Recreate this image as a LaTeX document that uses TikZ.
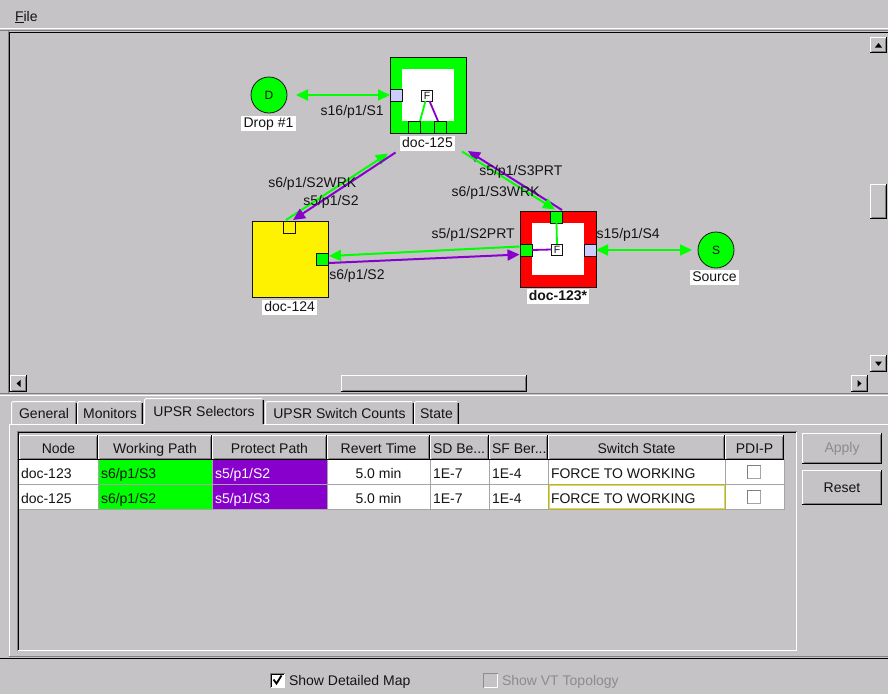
\documentclass[tikz,border=0pt]{standalone}
\usepackage{fontspec}
\setmainfont{Liberation Sans}
\usetikzlibrary{arrows.meta}

\definecolor{winbg}{RGB}{197,195,198}
\definecolor{edge}{RGB}{128,128,128}
\definecolor{nodegreen}{RGB}{0,255,0}
\definecolor{pathpurple}{RGB}{136,0,204}
\definecolor{portlav}{RGB}{204,204,255}
\definecolor{gridgray}{RGB}{165,165,165}
\definecolor{ink}{RGB}{20,20,20}
\definecolor{greyed}{RGB}{140,140,140}
\definecolor{focusyellow}{RGB}{235,225,0}

% raised 3D frame: (#1,#2) top-left, (#3,#4) bottom-right, in pixels
\newcommand\raisedframe[4]{%
  \fill[winbg] (#1,#2) rectangle (#3,#4);
  \draw[white,line width=1pt] (#1+0.5,#4-1) -- (#1+0.5,#2+0.5) -- (#3-1,#2+0.5);
  \draw[edge,line width=1pt] (#1+1.5,#4-1.5) -- (#3-1.5,#4-1.5) -- (#3-1.5,#2+1.5);
  \draw[black,line width=1pt] (#1,#4-0.5) -- (#3-0.5,#4-0.5) -- (#3-0.5,#2);
}
% sunken 3D frame with fill colour #5
\newcommand\sunkenframe[5]{%
  \fill[#5] (#1,#2) rectangle (#3,#4);
  \draw[edge,line width=1pt] (#1+0.5,#4) -- (#1+0.5,#2+0.5) -- (#3,#2+0.5);
  \draw[black,line width=1pt] (#1+1.5,#4-1) -- (#1+1.5,#2+1.5) -- (#3-1,#2+1.5);
  \draw[white,line width=1pt] (#1+0.5,#4-0.5) -- (#3-0.5,#4-0.5) -- (#3-0.5,#2+0.5);
}
% flat check box inside a table cell: top-left corner
\newcommand\cellcheck[2]{%
  \fill[white] (#1,#2) rectangle (#1+14,#2+14);
  \draw[edge,line width=1pt] (#1+0.5,#2+14) -- (#1+0.5,#2+0.5) -- (#1+14,#2+0.5);
  \draw[gridgray,line width=1pt] (#1+0.5,#2+13.5) -- (#1+13.5,#2+13.5) -- (#1+13.5,#2+0.5);
}
% notebook tab: left x, right x, top y
\newcommand\tabshape[3]{%
  \fill[winbg] (#1,#3) rectangle (#2,424);
  \draw[white,line width=1pt] (#1+0.5,424) -- (#1+0.5,#3+2) -- (#1+2,#3+0.5) -- (#2-2,#3+0.5);
  \draw[black,line width=1pt] (#2-0.5,#3+2) -- (#2-0.5,424);
  \draw[edge,line width=1pt] (#2-1.5,#3+2) -- (#2-1.5,424);
}

\begin{document}
\begin{tikzpicture}[x=1pt,y=-1pt,
  font=\fontsize{14}{16}\selectfont,
  every node/.style={inner sep=0pt,outer sep=0pt,text=ink},
  devbox/.style={draw=ink,line width=1pt,minimum size=76pt},
  innerwhite/.style={fill=white,draw=none,minimum size=52pt},
  portsq/.style={draw=ink,line width=0.8pt,minimum size=12pt},
  fsw/.style={draw=ink,fill=white,line width=1pt,minimum size=11pt,font=\fontsize{10.5}{10.5}\selectfont},
  endnode/.style={circle,draw=ink,fill=nodegreen,line width=0.8pt,minimum size=36pt,font=\fontsize{12}{12}\selectfont},
  tag/.style={fill=white,inner xsep=2.3pt,inner ysep=1pt,text height=10.5pt,text depth=2.5pt},
  linklbl/.style={anchor=base west},
  gline/.style={draw=nodegreen,line width=2pt},
  pline/.style={draw=pathpurple,line width=2pt},
  thinlink/.style={line width=1.8pt},
  headend/.style={-{Triangle[length=12pt,width=11pt]}},
  bothends/.style={{Triangle[length=12pt,width=11pt]}-{Triangle[length=12pt,width=11pt]}},
  celltxt/.style={anchor=base west},
  hdrtxt/.style={anchor=base},
  grid/.style={draw=gridgray,line width=1pt},
  ]
\useasboundingbox (0,0) rectangle (888,694);
\fill[winbg] (0,0) rectangle (888,694);

% ---------- menu bar ----------
\node[anchor=base west] (menufile) at (15,21) {\underline{F}ile};
\draw[white,line width=1pt] (0,28.5) -- (888,28.5);
\draw[edge,line width=1pt] (0,30.5) -- (888,30.5);
\draw[black,line width=1pt] (9,32) -- (888,32);
\draw[edge,line width=1pt] (8.5,31) -- (8.5,393);
\draw[black,line width=1pt] (9.5,32) -- (9.5,392);

% ---------- scroll bars of the map ----------
\raisedframe{870}{37}{887}{53}
\fill[black] (875,47.5) -- (882,47.5) -- (878.5,43) -- cycle;
\raisedframe{870}{184}{887}{219}
\raisedframe{870}{355}{887}{372}
\fill[black] (875,361.5) -- (882,361.5) -- (878.5,366) -- cycle;
\raisedframe{10}{375}{27}{392}
\fill[black] (16.5,383.5) -- (20.5,380) -- (20.5,387) -- cycle;
\raisedframe{341}{375}{527}{392}
\raisedframe{851}{375}{868}{392}
\fill[black] (861.5,383.5) -- (857.5,380) -- (857.5,387) -- cycle;
\draw[edge,line width=1pt] (0,393.5) -- (888,393.5);
\draw[white,line width=1pt] (0,395) -- (888,395);

% ---------- network map ----------
% end points
\node[endnode] (drop) at (269,95) {D};
\node[tag] (droplbl) at (268.5,123) {Drop \#1};
\node[endnode] (source) at (716,250) {S};
\node[tag] (sourcelbl) at (714.5,277) {Source};

% doc-125
\node[devbox,fill=nodegreen] (n125) at (428,95) {};
\node[innerwhite] (w125) at (427.5,95) {};
\node[portsq,fill=portlav] (p125w) at (396,95) {};
\node[portsq,fill=nodegreen] (p125a) at (414,127) {};
\node[portsq,fill=nodegreen] (p125b) at (440,127) {};
\node[fsw] (f125) at (427,95.5) {F};
\draw[nodegreen,thinlink] (f125.south) ++(-1.5,0) coordinate (f125g) -- (p125a.north east);
\draw[pathpurple,thinlink] (f125.south) ++(2.5,0) coordinate (f125p) -- ([xshift=-2pt]p125b.north);
\node[tag] (lbl125) at (427.5,143.3) {doc-125};

% doc-124
\node[devbox,fill=yellow] (n124) at (290,259) {};
\node[portsq,fill=yellow] (p124t) at (289,227) {};
\node[portsq,fill=nodegreen] (p124e) at (322,259) {};
\node[tag] (lbl124) at (289.7,307) {doc-124};

% doc-123
\node[devbox,fill=red] (n123) at (558,249) {};
\node[innerwhite] (w123) at (558,248.5) {};
\node[portsq,fill=nodegreen] (p123n) at (556.5,217) {};
\node[portsq,fill=nodegreen] (p123w) at (526,250) {};
\node[portsq,fill=portlav] (p123e) at (590,250) {};
\node[fsw] (f123) at (557,249.5) {F};
\draw[nodegreen,thinlink] (p123n.south) -- (f123.north);
\draw[pathpurple,thinlink] (p123w.east) -- (f123.west);
\node[tag,font=\fontsize{14}{16}\selectfont\bfseries] (lbl123) at (558,296) {doc-123*};

% link end points
\coordinate (g124t) at (286,220);
\coordinate (g125l) at (388,153.5);
\coordinate (v125l) at (395.5,152.5);
\coordinate (v124t) at (293,220);
\coordinate (g123w) at (519.5,246.5);
\coordinate (g124e) at (329,256);
\coordinate (v124e) at (329,263);
\coordinate (v123w) at (519.5,254.5);
\coordinate (v123n) at (562,210);
\coordinate (v125r) at (468,151);
\coordinate (g125r) at (462,151.5);
\coordinate (g123n) at (555,209.5);

% links
\draw[gline,bothends,shorten <=9pt] (drop) -- (p125w);
\draw[gline,headend] (g124t) -- (g125l);
\draw[pline,headend] (v125l) -- (v124t);
\draw[gline,headend] (g123w) -- (g124e);
\draw[pline,headend] (v124e) -- (v123w);
\draw[pline,headend] (v123n) -- (v125r);
\draw[gline,headend] (g125r) -- (g123n);
\draw[gline,bothends,shorten >=6pt] (p123e) -- (source);

% link labels
\node[linklbl] (l16) at (320.7,115.7) {s16/p1/S1};
\node[linklbl] (l6wrk2) at (268.3,187.7) {s6/p1/S2WRK};
\node[linklbl] (l5s2) at (303.3,205.7) {s5/p1/S2};
\node[linklbl] (l6s2) at (329.3,279.3) {s6/p1/S2};
\node[linklbl] (l5prt2) at (431.7,238.3) {s5/p1/S2PRT};
\node[linklbl] (l15) at (596.7,238.3) {s15/p1/S4};
\node[linklbl] (l5prt3) at (479.3,175) {s5/p1/S3PRT};
\node[linklbl] (l6wrk3) at (451.7,196) {s6/p1/S3WRK};

% ---------- notebook tabs ----------
\tabshape{11}{77}{401}
\tabshape{77}{143}{401}
\tabshape{265}{414}{401}
\tabshape{414}{459}{401}
\draw[white,line width=1pt] (9,424.5) -- (144,424.5);
\draw[white,line width=1pt] (264,424.5) -- (888,424.5);
\draw[white,line width=1pt] (9.5,424.5) -- (9.5,656);
\tabshape{144}{264}{398}
\fill[winbg] (145,423) rectangle (262,426);
\node[anchor=base] (tabgen) at (44,418.3) {General};
\node[anchor=base] (tabmon) at (110,418.3) {Monitors};
\node[anchor=base] (tabsel) at (204,416.7) {UPSR Selectors};
\node[anchor=base] (tabcnt) at (339.5,418.3) {UPSR Switch Counts};
\node[anchor=base] (tabstate) at (436.5,418.3) {State};

% ---------- selector table ----------
\sunkenframe{17}{431}{797}{651}{winbg}
% rows
\fill[white] (19,459) rectangle (784,509.5);
\fill[nodegreen] (98,459) rectangle (212,509);
\fill[pathpurple] (212,459) rectangle (327,509);
\foreach \yy in {484.5,509.5} \draw[grid] (19,\yy) -- (784,\yy);
\foreach \xx in {98,212,327,430,489,548,725,784} \draw[grid] (\xx,459) -- (\xx,509.5);
% header cells
\foreach \xa/\xb in {19/98,98/212,212/327,327/430,430/489,489/548,548/725,725/784}
  {\raisedframe{\xa}{435}{\xb}{460}}
\node[hdrtxt] (hnode) at (58.5,453.3) {Node};
\node[hdrtxt] (hwork) at (155,453.3) {Working Path};
\node[hdrtxt] (hprot) at (269.5,453.3) {Protect Path};
\node[hdrtxt] (hrev) at (378.5,453.3) {Revert Time};
\node[celltxt] (hsd) at (433,453.3) {SD Be...};
\node[celltxt] (hsf) at (492,453.3) {SF Ber...};
\node[hdrtxt] (hsw) at (636.5,453.3) {Switch State};
\node[hdrtxt] (hpdi) at (754.5,453.3) {PDI-P};
% row 1
\node[celltxt] (r1node) at (21,478.3) {doc-123};
\node[celltxt] (r1work) at (101,478.3) {s6/p1/S3};
\node[celltxt,text=white] (r1prot) at (215,478.3) {s5/p1/S2};
\node[hdrtxt] (r1rev) at (378.5,478.3) {5.0 min};
\node[celltxt] (r1sd) at (433,478.3) {1E-7};
\node[celltxt] (r1sf) at (492,478.3) {1E-4};
\node[celltxt] (r1sw) at (551,478.3) {FORCE TO WORKING};
\cellcheck{747}{465}
% row 2
\node[celltxt] (r2node) at (21,503.3) {doc-125};
\node[celltxt] (r2work) at (101,503.3) {s6/p1/S2};
\node[celltxt,text=white] (r2prot) at (215,503.3) {s5/p1/S3};
\node[hdrtxt] (r2rev) at (378.5,503.3) {5.0 min};
\node[celltxt] (r2sd) at (433,503.3) {1E-7};
\node[celltxt] (r2sf) at (492,503.3) {1E-4};
\node[celltxt] (r2sw) at (551,503.3) {FORCE TO WORKING};
\draw[focusyellow,line width=1pt] (549.5,485.5) rectangle (724.5,508.5);
\cellcheck{747}{490}

% buttons
\raisedframe{802}{433}{882}{464}
\node[text=greyed] (applybtn) at (842,448.5) {Apply};
\raisedframe{802}{470}{882}{505}
\node (resetbtn) at (842,487.5) {Reset};

% ---------- bottom bar ----------
\draw[edge,line width=1pt] (9,656.5) -- (888,656.5);
\draw[black,line width=1pt] (0,658) -- (888,658);
\sunkenframe{270}{673}{285}{688}{white}
\draw[black,line width=1.8pt] (273.5,679.5) -- (276.5,683.5) -- (281.5,675.5);
\node[anchor=base west] (showmap) at (289,685) {Show Detailed Map};
\fill[winbg] (483,673) rectangle (498,688);
\draw[greyed,line width=1pt] (483.5,687.5) -- (483.5,673.5) -- (497.5,673.5);
\draw[white,line width=1pt] (483.5,687.5) -- (497.5,687.5) -- (497.5,673.5);
\node[anchor=base west,text=greyed] (showvt) at (502,685) {Show VT Topology};
\end{tikzpicture}
\end{document}
